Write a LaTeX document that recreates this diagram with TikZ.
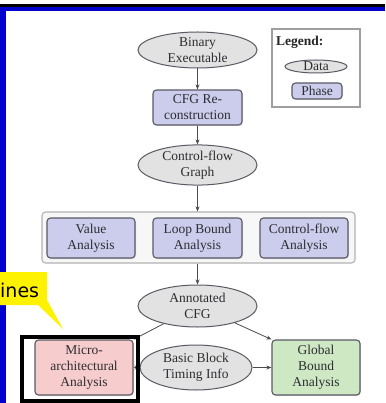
\documentclass[tikz,border=0pt]{standalone}
\usepackage{fontspec}
\setmainfont{Liberation Serif}
\newfontfamily\calloutfont{DejaVu Sans}
\usetikzlibrary{shapes.geometric,arrows.meta,shadows}
\definecolor{slideblue}{RGB}{0,0,205}
\definecolor{phasefill}{RGB}{204,204,236}
\definecolor{datafill}{RGB}{226,226,226}
\definecolor{microfill}{RGB}{246,204,204}
\definecolor{globalfill}{RGB}{206,232,196}
\definecolor{edgegray}{RGB}{90,90,100}
\definecolor{inkgray}{RGB}{45,45,50}
\tikzset{
  lbl/.style={font=\fontsize{13.5}{16}\selectfont, align=center, text=inkgray},
  phase/.style={lbl, rectangle, rounded corners=3.5pt, draw=edgegray, line width=1.1pt,
    fill=phasefill, minimum width=88pt, minimum height=40pt, inner sep=1pt,
    drop shadow={opacity=0.25, shadow xshift=1pt, shadow yshift=-1pt}},
  data/.style={lbl, ellipse, draw=edgegray, line width=1pt, fill=datafill,
    minimum width=119pt, minimum height=40pt, inner sep=0pt},
  flow/.style={-{Stealth[length=5pt,width=4pt]}, draw=black!70, line width=0.8pt}
}
\begin{document}
\begin{tikzpicture}[x=1pt,y=-1pt]
\useasboundingbox (0,0) rectangle (385,403);
\fill[white] (0,0) rectangle (385,403);

% slide frame
\fill[black] (0,4) rectangle (385,7);
\fill[slideblue] (0,7) rectangle (385,11);
\fill[slideblue] (0,7) rectangle (6,403);

% legend
\node[draw=gray!75, line width=1.1pt, fill=white, minimum width=88pt, minimum height=78pt,
      drop shadow={opacity=0.2, shadow xshift=1pt, shadow yshift=-1pt}] (legend) at (316,68) {};
\node[font=\fontsize{13.5}{14}\selectfont\bfseries, text=black!85, anchor=west, inner sep=0pt] (legtitle) at (276,42) {Legend:};
\node[data, minimum width=62pt, minimum height=13pt] (legdata) at (316,66.5) {Data};
\node[phase, minimum width=50pt, minimum height=16pt] (legphase) at (317,91) {Phase};

% main flow
\node[data, minimum height=36pt] (bin) at (197.5,50) {Binary\\Executable};
\node[phase, minimum width=89pt, minimum height=35pt] (cfgre) at (197.5,107.5) {CFG Re-\\construction};
\node[data] (cfg) at (197.5,165) {Control-flow\\Graph};

\node[rectangle, rounded corners=3.5pt, draw=gray!60, line width=1.1pt, fill=black!3,
      minimum width=313pt, minimum height=51pt] (group) at (198.5,237.5) {};
\node[phase] (value) at (91,238) {Value\\Analysis};
\node[phase, minimum width=89pt] (loop) at (197.5,238) {Loop Bound\\Analysis};
\node[phase] (cflow) at (304,238) {Control-flow\\Analysis};

\node[data, minimum height=42pt] (ann) at (197.5,306) {Annotated\\CFG};
\node[phase, fill=microfill, minimum width=98pt, minimum height=55pt] (micro) at (84,367.5) {Micro-\\architectural\\Analysis};
\node[data, minimum width=112pt, minimum height=45pt] (bb) at (196,367.5) {Basic Block\\Timing Info};
\node[phase, fill=globalfill, minimum width=88pt, minimum height=55pt] (global) at (316,367.5) {Global\\Bound\\Analysis};

\draw[flow] (bin) -- (cfgre);
\draw[flow] (cfgre) -- (cfg);
\draw[flow] (cfg.south) -- (cfg.south |- group.north);
\draw[flow] (ann.north |- group.south) -- (ann.north);
\draw[flow] (ann) -- (micro.north east);
\draw[flow] (ann) -- (global.north west);
\draw[flow] (micro) -- (bb);
\draw[flow] (bb) -- (global);

% highlight frame
\draw[black, line width=4pt] (22,337) rectangle (138,401);

% callout
\fill[yellow] (0,272) -- (47,272) -- (47,300) -- (63,329) -- (38,305) -- (0,305) -- cycle;
\node[font=\calloutfont\fontsize{19}{19}\selectfont, text=black, anchor=base west, inner sep=0pt] (callout) at (0,297) {ines};
\end{tikzpicture}
\end{document}
